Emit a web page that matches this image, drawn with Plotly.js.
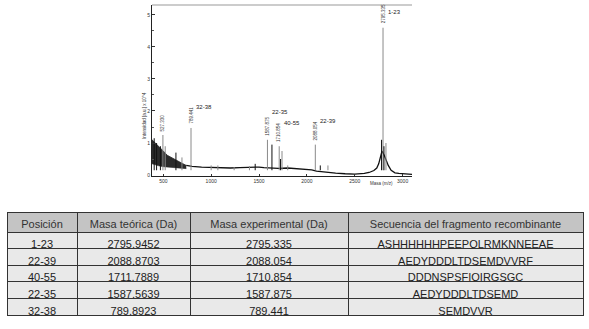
<!DOCTYPE html>
<html>
<head>
<meta charset="utf-8">
<script src="https://cdn.plot.ly/plotly-3.0.1.min.js"></script>
<style>
  html, body { margin: 0; padding: 0; background: #fff; }
  #chart { width: 589px; height: 329px; }
</style>
</head>
<body>
<div id="chart"></div>
<script>
// Spectrum: noisy low-mass region (envelope), baseline, and peak sticks (intensity x 10^4)
const noiseMz = [382, 400, 430, 460, 500, 540, 580, 620, 660, 700, 740];
const noiseHi = [1.1, 1.05, 0.95, 0.85, 0.75, 0.62, 0.55, 0.48, 0.42, 0.36, 0.3];
const noiseLo = [0.35, 0.33, 0.3, 0.28, 0.26, 0.25, 0.24, 0.23, 0.22, 0.21, 0.2];

const baseMz = [740, 800, 900, 1000, 1100, 1200, 1300, 1400, 1450, 1500,
                1550, 1600, 1650, 1700, 1800, 1900, 2000, 2050, 2100, 2150,
                2200, 2300, 2400, 2500, 2600, 2650, 2700, 2730, 2750, 2770,
                2785, 2810, 2830, 2850, 2880, 2920, 2960, 3000, 3050, 3098];
const baseInt = [0.3, 0.27, 0.25, 0.24, 0.22, 0.22, 0.23, 0.24, 0.26, 0.25,
                 0.23, 0.22, 0.2, 0.21, 0.22, 0.2, 0.17, 0.16, 0.12, 0.1,
                 0.08, 0.06, 0.04, 0.03, 0.05, 0.08, 0.14, 0.22, 0.35, 0.55,
                 0.75, 0.6, 0.45, 0.3, 0.15, 0.07, 0.05, 0.04, 0.03, 0.02];

const darkPeakMz = [405, 430, 470, 632, 1460, 1635, 1725, 2140, 2780, 2805];
const darkPeakInt = [1.15, 1.0, 0.9, 0.7, 0.35, 0.95, 0.5, 0.3, 1.1, 0.9];

const grayPeakMz = [496, 520, 695, 789.4, 1000, 1070, 1240, 1400, 1587.9, 1710.9,
                    1740, 1800, 2088.1, 2220, 2795.3, 2826, 3000];
const grayPeakInt = [1.25, 0.9, 0.55, 1.47, 0.3, 0.3, 0.25, 0.28, 1.1, 0.9,
                     0.75, 0.3, 0.95, 0.3, 4.6, 1.0, 0.15];

// labelled peaks
const labelFrag = ['1-23', '22-39', '40-55', '22-35', '32-38'];
const labelMz = [2795.3, 2088.1, 1710.9, 1587.9, 789.4];
const labelMass = ['2795.335', '2088.054', '1710.854', '1587.875', '789.441'];
const labelInt = [4.6, 0.95, 0.9, 1.1, 1.47];
const fragLabelY = [5.09, 1.69, 1.62, 1.97, 2.12];

const xTicks = [500, 1000, 1500, 2000, 2500, 3000];
const yTicks = [0, 1, 2, 3, 4, 5];

// Table
const posicion = ['1-23', '22-39', '40-55', '22-35', '32-38'];
const masaTeorica = ['2795.9452', '2088.8703', '1711.7889', '1587.5639', '789.8923'];
const masaExperimental = ['2795.335', '2088.054', '1710.854', '1587.875', '789.441'];
const secuencia = ['ASHHHHHHPEEPQLRMKNNEEAE', 'AEDYDDDLTDSEMDVVRF', 'DDDNSPSFIQIRGSGC',
                   'AEDYDDDLTDSEMD', 'SEMDVVR'];
const headers = ['Posición', 'Masa teórica (Da)', 'Masa experimental (Da)',
                 'Secuencia del fragmento recombinante'];

function sticks(mz, h, bottom) {
    let xs = [], ys = [];
    mz.forEach((m, i) => {
        xs.push(m, m, null);
        ys.push(bottom, h[i], null);
    });
    return { x: xs, y: ys };
}

const dark = sticks(darkPeakMz, darkPeakInt, 0.15);
const gray = sticks(grayPeakMz, grayPeakInt, 0.15);

const tableFont = 'Liberation Sans, Arial, sans-serif';

const traces = [
    { x: noiseMz, y: noiseLo, type: 'scatter', mode: 'lines',
      line: { color: '#222', width: 0.5 }, hoverinfo: 'skip' },
    { x: noiseMz, y: noiseHi, type: 'scatter', mode: 'lines', fill: 'tonexty',
      fillcolor: '#2a2a2a', line: { color: '#222', width: 0.8 }, hoverinfo: 'skip' },
    { x: baseMz, y: baseInt, type: 'scatter', mode: 'lines',
      line: { color: '#111', width: 1.3 }, hoverinfo: 'skip' },
    { x: gray.x, y: gray.y, type: 'scatter', mode: 'lines',
      line: { color: '#8a8a8a', width: 1 }, hoverinfo: 'skip' },
    { x: dark.x, y: dark.y, type: 'scatter', mode: 'lines',
      line: { color: '#111', width: 1 }, hoverinfo: 'skip' },
    {
        type: 'table',
        domain: { x: [7 / 589, 583 / 589], y: [1 - 316 / 329, 1 - 212 / 329] },
        columnwidth: [70, 113, 158, 235],
        header: {
            values: headers,
            align: 'center',
            height: 20,
            fill: { color: '#c4c4c4' },
            line: { color: '#333', width: 1 },
            font: { family: tableFont, size: 11, color: '#333' }
        },
        cells: {
            values: [posicion, masaTeorica, masaExperimental, secuencia],
            align: 'center',
            height: 16.6,
            fill: { color: '#e9e9e9' },
            line: { color: '#333', width: 1 },
            font: { family: tableFont, size: 11, color: '#222' }
        }
    }
];

const smallFont = { family: 'Liberation Sans, Arial, sans-serif', size: 6, color: '#222' };
const tinyFont = { family: 'Liberation Sans, Arial, sans-serif', size: 4.5, color: '#333' };

let annotations = [];
labelFrag.forEach((frag, i) => {
    // rotated measured mass just above the peak
    annotations.push({
        x: labelMz[i], y: labelInt[i], xref: 'x', yref: 'y',
        text: labelMass[i], textangle: -90, showarrow: false,
        yanchor: 'bottom', xanchor: 'center', yshift: 2, font: tinyFont
    });
    // fragment name, to the right of the rotated mass
    annotations.push({
        x: labelMz[i], y: fragLabelY[i], xref: 'x', yref: 'y',
        text: frag, showarrow: false, xanchor: 'left', yanchor: 'middle',
        xshift: 3, font: smallFont
    });
});
annotations.push(
    { x: 496, y: 1.25, xref: 'x', yref: 'y', text: '527.330', textangle: -90, showarrow: false,
      yanchor: 'bottom', yshift: 2, font: tinyFont },
    { x: 140 / 589, y: 1 - 90 / 329, xref: 'paper', yref: 'paper', text: 'Intensidad [a.u.] x 10^4',
      textangle: -90, showarrow: false, font: tinyFont },
    { x: 395 / 589, y: 1 - 183 / 329, xref: 'paper', yref: 'paper', text: 'Masa (m/z)',
      showarrow: false, xanchor: 'right', font: tinyFont }
);

const layout = {
    width: 589, height: 329,
    margin: { l: 0, r: 0, t: 0, b: 0 },
    paper_bgcolor: '#fff', plot_bgcolor: '#fff',
    showlegend: false,
    xaxis: {
        domain: [152 / 589, 412 / 589],
        range: [382, 3098],
        tickvals: xTicks,
        ticktext: xTicks.map(String),
        ticks: 'inside', ticklen: 2, tickcolor: '#333',
        tickfont: { family: 'Liberation Sans, Arial, sans-serif', size: 5, color: '#333' },
        showline: true, linecolor: '#222', linewidth: 1,
        showgrid: false, zeroline: false
    },
    yaxis: {
        domain: [1 - 176 / 329, 1 - 5 / 329],
        range: [-0.03, 5.31],
        tickvals: yTicks,
        ticks: 'inside', ticklen: 3, tickcolor: '#333',
        minor: { dtick: 0.5, ticks: 'inside', ticklen: 1.5, tickcolor: '#555' },
        tickfont: { family: 'Liberation Sans, Arial, sans-serif', size: 5, color: '#333' },
        showline: true, linecolor: '#222', linewidth: 1,
        showgrid: false, zeroline: false
    },
    shapes: [
        { type: 'line', xref: 'paper', yref: 'paper',
          x0: 152 / 589, x1: 412 / 589, y0: 1 - 5 / 329, y1: 1 - 5 / 329,
          line: { color: '#999', width: 1 } }
    ],
    annotations: annotations
};

Plotly.newPlot('chart', traces, layout, { displayModeBar: false, staticPlot: true });
</script>
</body>
</html>
